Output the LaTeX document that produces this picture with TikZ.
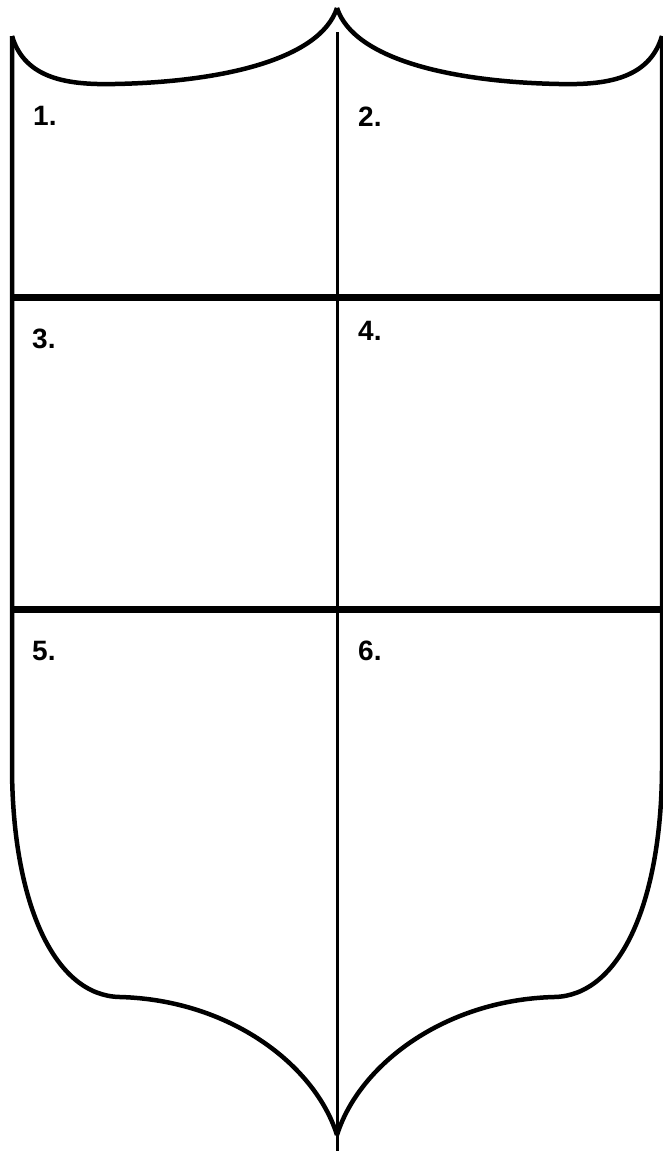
\documentclass[tikz,border=0pt]{standalone}
\usepackage{fontspec}
\setmainfont{Liberation Sans}
\tikzset{
  outline/.style={line width=4.5pt,line join=round},
  divider/.style={line width=7pt},
  midline/.style={line width=3pt},
  fieldno/.style={anchor=base west,inner sep=0pt,font=\fontsize{28}{30}\selectfont\bfseries}
}
\begin{document}
\begin{tikzpicture}[x=1pt,y=-1pt]
\useasboundingbox (0,0) rectangle (663,1151);
\draw[outline] (12,36) .. controls (25,80) and (70,85) .. (115,84) .. controls (220,82) and (320,60) .. (337,8);
\draw[outline] (662,36) .. controls (649,80) and (604,85) .. (559,84) .. controls (454,82) and (354,60) .. (337,8);
\draw[outline] (12,36) -- (12,770) .. controls (13,905) and (55,996) .. (120,997) .. controls (230,1000) and (315,1065) .. (337,1135);
\draw[outline] (662,36) -- (662,770) .. controls (661,905) and (619,996) .. (554,997) .. controls (444,1000) and (359,1065) .. (337,1135);
\draw[midline] (337,32) -- (337,1151);
\draw[divider] (12,297) -- (662,297);
\draw[divider] (12,609) -- (662,609);
\node[fieldno] (f1) at (33,125) {1.};
\node[fieldno] (f2) at (358,126) {2.};
\node[fieldno] (f3) at (32,348) {3.};
\node[fieldno] (f4) at (358,340) {4.};
\node[fieldno] (f5) at (32,660) {5.};
\node[fieldno] (f6) at (358,660) {6.};
\end{tikzpicture}
\end{document}
